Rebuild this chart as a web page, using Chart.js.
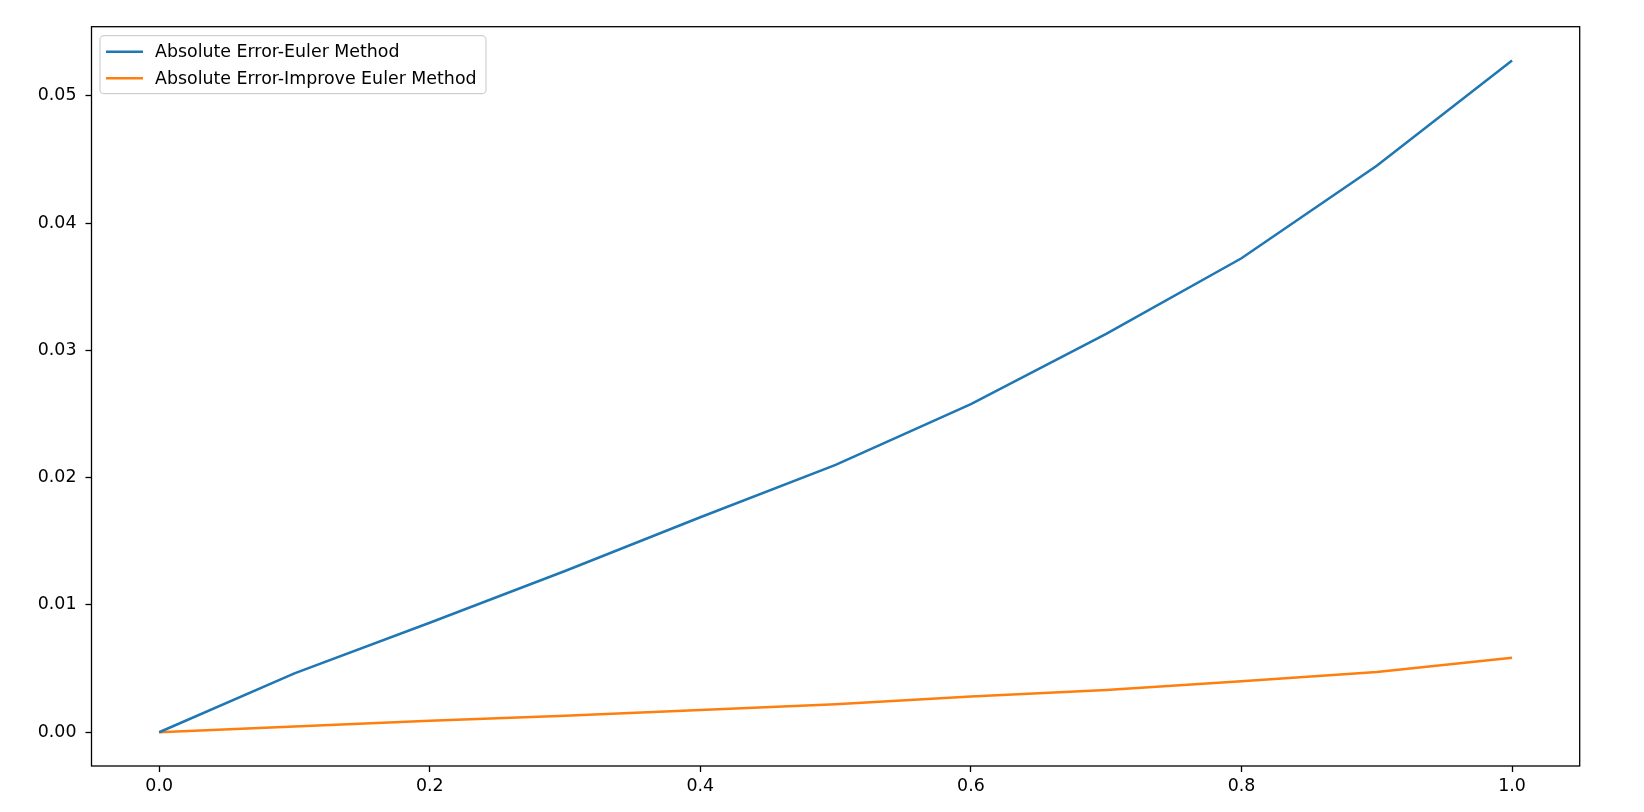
<!DOCTYPE html>
<html>
<head>
<meta charset="utf-8">
<script src="https://cdn.jsdelivr.net/npm/chart.js@4.4.1/dist/chart.umd.min.js"></script>
<style>
  html, body { margin: 0; padding: 0; background: #fff; }
  #wrap { width: 1644px; height: 812px; }
</style>
</head>
<body>
<div id="wrap"><canvas id="errChart" width="1644" height="812"></canvas></div>
<script>
// --- data ---
const xValues = [0.0, 0.1, 0.2, 0.3, 0.4, 0.5, 0.6, 0.7, 0.8, 0.9, 1.0];
const eulerError = [0, 0.00463, 0.0086, 0.01267, 0.01689, 0.0210, 0.02577, 0.03129, 0.03723, 0.04449, 0.05276];
const improvedError = [0, 0.00045, 0.0009, 0.0013, 0.00175, 0.0022, 0.0028, 0.00332, 0.0040, 0.00474, 0.00586];
const xTicks = [0.0, 0.2, 0.4, 0.6, 0.8, 1.0];
const yTicks = [0.00, 0.01, 0.02, 0.03, 0.04, 0.05];
const seriesLabels = ['Absolute Error-Euler Method', 'Absolute Error-Improve Euler Method'];

const FONT = 'DejaVu Sans';
const FONT_SIZE = 17.4;

const toPoints = (ys) => xValues.map((x, i) => ({ x: x, y: ys[i] }));

// matplotlib-like frame round the plot area
const framePlugin = {
    id: 'frame',
    afterDatasetsDraw(chart) {
        const { ctx, chartArea: a } = chart;
        ctx.save();
        ctx.strokeStyle = '#000';
        ctx.lineWidth = 1.3;
        ctx.strokeRect(a.left, a.top, a.right - a.left, a.bottom - a.top);
        ctx.restore();
    }
};

// legend in the upper-left corner, drawn from the datasets
const legendPlugin = {
    id: 'cornerLegend',
    afterDraw(chart) {
        const ctx = chart.ctx;
        const a = chart.chartArea;
        const x = a.left + 8.5, y = a.top + 9, w = 386, h = 58, r = 4;
        ctx.save();
        ctx.beginPath();
        ctx.roundRect(x, y, w, h, r);
        ctx.fillStyle = 'rgba(255,255,255,0.8)';
        ctx.fill();
        ctx.strokeStyle = '#d0d0d0';
        ctx.lineWidth = 1.2;
        ctx.stroke();
        ctx.font = FONT_SIZE + 'px "' + FONT + '"';
        ctx.textBaseline = 'middle';
        chart.data.datasets.forEach((ds, i) => {
            const ly = y + 16 + i * 26.6;
            ctx.strokeStyle = ds.borderColor;
            ctx.lineWidth = ds.borderWidth;
            ctx.beginPath();
            ctx.moveTo(x + 6, ly);
            ctx.lineTo(x + 43, ly);
            ctx.stroke();
            ctx.fillStyle = '#000';
            ctx.fillText(ds.label, x + 55, ly + 1);
        });
        ctx.restore();
    }
};

new Chart(document.getElementById('errChart'), {
    type: 'line',
    data: {
        datasets: [{
            label: seriesLabels[0],
            data: toPoints(eulerError),
            borderColor: '#1f77b4',
            borderWidth: 2.5,
            pointRadius: 0,
            tension: 0,
            fill: false
        }, {
            label: seriesLabels[1],
            data: toPoints(improvedError),
            borderColor: '#ff7f0e',
            borderWidth: 2.5,
            pointRadius: 0,
            tension: 0,
            fill: false
        }]
    },
    options: {
        responsive: false,
        animation: false,
        devicePixelRatio: 1,
        layout: { padding: { left: 0, top: 26.7, right: 64.3, bottom: 0 } },
        plugins: {
            legend: { display: false },
            tooltip: { enabled: false }
        },
        scales: {
            x: {
                type: 'linear',
                min: -0.05,
                max: 1.05,
                border: { display: false },
                grid: { drawOnChartArea: false, drawTicks: true, tickLength: 6, color: '#000', tickWidth: 1.3 },
                ticks: {
                    color: '#000',
                    padding: 4,
                    maxRotation: 0,
                    font: { family: FONT, size: FONT_SIZE },
                    callback: (v) => Number(v).toFixed(1)
                },
                afterBuildTicks: (scale) => { scale.ticks = xTicks.map(v => ({ value: v })); },
                afterFit: (scale) => { scale.height = 46; }
            },
            y: {
                type: 'linear',
                min: -0.00265,
                max: 0.05542,
                border: { display: false },
                grid: { drawOnChartArea: false, drawTicks: true, tickLength: 6, color: '#000', tickWidth: 1.3 },
                ticks: {
                    color: '#000',
                    padding: 9,
                    font: { family: FONT, size: FONT_SIZE },
                    callback: (v) => Number(v).toFixed(2)
                },
                afterBuildTicks: (scale) => { scale.ticks = yTicks.map(v => ({ value: v })); },
                afterFit: (scale) => { scale.width = 91.5; }
            }
        }
    },
    plugins: [framePlugin, legendPlugin]
});
</script>
</body>
</html>
